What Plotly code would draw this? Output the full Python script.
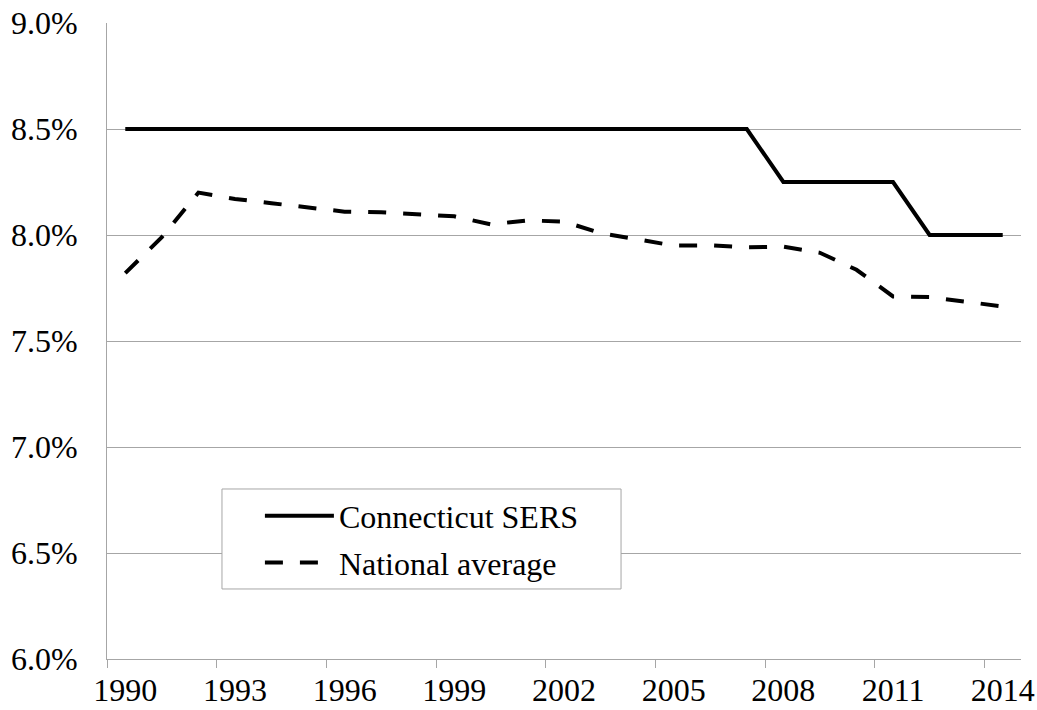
import plotly.graph_objects as go

# Assumed rates of return, percent, 1990-2014
years = list(range(1990, 2015))
ct_sers = [8.50, 8.50, 8.50, 8.50, 8.50, 8.50, 8.50, 8.50, 8.50, 8.50,
           8.50, 8.50, 8.50, 8.50, 8.50, 8.50, 8.50, 8.50, 8.25, 8.25,
           8.25, 8.25, 8.00, 8.00, 8.00]
national = [7.82, 7.99, 8.20, 8.17, 8.15, 8.13, 8.11, 8.107, 8.099, 8.088,
            8.05, 8.069, 8.063, 8.009, 7.98, 7.95, 7.951, 7.942, 7.945, 7.916,
            7.836, 7.71, 7.707, 7.685, 7.663]
year_labels = list(range(1990, 2015, 3))
y_ticks = [6.0, 6.5, 7.0, 7.5, 8.0, 8.5, 9.0]

FONT = "Times New Roman, Liberation Serif, serif"
GRID = "#a6a6a6"
FSIZE = 32

fig = go.Figure()
fig.add_trace(go.Scatter(
    x=years, y=ct_sers, mode="lines", name="Connecticut SERS",
    legendgroup="a", line=dict(color="black", width=4)))
fig.add_trace(go.Scatter(
    x=years, y=national, mode="lines", name="National average",
    legendgroup="b", line=dict(color="black", width=4, dash="18px,17px")))

# white legend frame that hides the gridline behind it
fig.add_shape(type="rect", xref="paper", yref="paper",
              x0=0.1258, x1=0.5624, y0=0.1101, y1=0.2673,
              line=dict(color=GRID, width=1), fillcolor="white",
              layer="above")

fig.update_layout(
    width=1037, height=710,
    margin=dict(l=107, r=16, t=23, b=51),
    paper_bgcolor="white", plot_bgcolor="white",
    font=dict(family=FONT, size=FSIZE, color="black"),
    showlegend=True,
    legend=dict(
        x=0.1673, y=0.268, xanchor="left", yanchor="top",
        borderwidth=0, bgcolor="rgba(0,0,0,0)",
        font=dict(family=FONT, size=FSIZE, color="black"),
        itemwidth=69, tracegroupgap=2,
    ),
)

fig.update_xaxes(
    range=[1989.5, 2014.5], automargin=False,
    tickmode="array", tickvals=year_labels,
    ticktext=[str(v) for v in year_labels],
    ticks="", showgrid=False, zeroline=False,
    showline=True, linecolor=GRID, linewidth=1,
    ticklabelstandoff=3,
    minor=dict(tick0=1989.5, dtick=3, ticks="outside", ticklen=8,
               tickcolor=GRID, tickwidth=1, showgrid=False),
)
fig.update_yaxes(
    range=[6.0, 9.0], automargin=False,
    tickmode="array", tickvals=y_ticks,
    ticktext=[f"{v:.1f}%" for v in y_ticks],
    ticks="", showgrid=True, gridcolor=GRID, gridwidth=1,
    zeroline=False, showline=True, linecolor=GRID, linewidth=1,
    ticklabelstandoff=22,
)

fig.write_html("out.html")
